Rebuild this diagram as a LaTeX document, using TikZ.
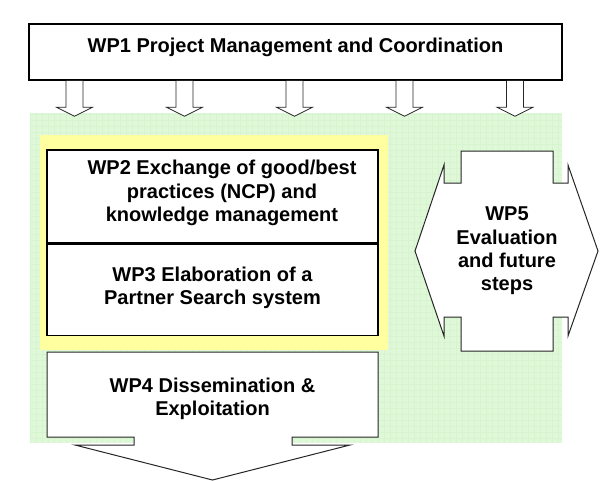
\documentclass[tikz,border=0pt]{standalone}
\usepackage{fontspec}
\setmainfont{Liberation Sans}
\usepackage{tikz}
\usetikzlibrary{positioning}
\definecolor{panelgreen}{RGB}{223,249,216}
\definecolor{gridgreen}{RGB}{213,244,207}
\definecolor{frameyellow}{RGB}{255,255,160}

\begin{document}
\begin{tikzpicture}[x=1pt, y=-1pt,
  every node/.style={font=\fontsize{20}{23.3}\selectfont\bfseries, align=center, inner sep=0pt},
  wpbox/.style={draw, line width=1.5pt, fill=white},
  wpshape/.style={draw=black!85, line width=1pt, fill=white},
  downarrow/.style={draw=black!85, line width=0.8pt, fill=white}]

\useasboundingbox (0,0) rectangle (609,480);

\fill[panelgreen] (30,113) rectangle (562,443);
\draw[gridgreen, line width=0.3pt, step=6pt] (30,113) grid (562,443);
\fill[frameyellow] (40,135) rectangle (388,350);

\node[wpbox, minimum width=533pt, minimum height=56pt, text height=15pt, text depth=15pt] (wp1) at (295.5,52)
  {WP1 Project Management and Coordination};

\foreach \x in {74.5,184.5,294.5,404.5,515}
  \draw[downarrow] (wp1.south -| \x,0) ++(-8.5,0) -- ++(0,26.5) -- ++(-9.5,0) -- ++(18,9) -- ++(18,-9) -- ++(-9.5,0) -- ++(0,-26.5);

\node[wpbox, minimum width=331pt, minimum height=93pt] (wp2) at (212.5,196.5) {};
\node (wp2text) at ([xshift=9.5pt, yshift=3.5pt]wp2.center)
  {WP2 Exchange of good/best\\practices (NCP) and\\knowledge management};
\node[wpbox, minimum width=331pt, minimum height=91pt, below=0pt of wp2] (wp3) {};
\node (wp3text) at ([yshift=2pt]wp3.center) {WP3 Elaboration of a\\Partner Search system};

\draw[wpshape] (47,352) -- (378,352) -- (378,437) -- (292,437) -- (292,445) -- (350,445) -- (212.5,480)
  -- (75,445) -- (134,445) -- (134,437) -- (47,437) -- cycle;
\node (wp4) at (212.5,399) {WP4 Dissemination \&\\Exploitation};

\draw[wpshape] (461,151) -- (553,151) -- (553,183) -- (568,183) -- (568,165) -- (598,251) -- (568,336)
  -- (568,317) -- (553,317) -- (553,351) -- (461,351) -- (461,317) -- (444,317) -- (444,336)
  -- (415,251) -- (444,165) -- (444,183) -- (461,183) -- cycle;
\node (wp5) at (507,251) {WP5\\Evaluation\\and future\\steps};

\end{tikzpicture}
\end{document}
